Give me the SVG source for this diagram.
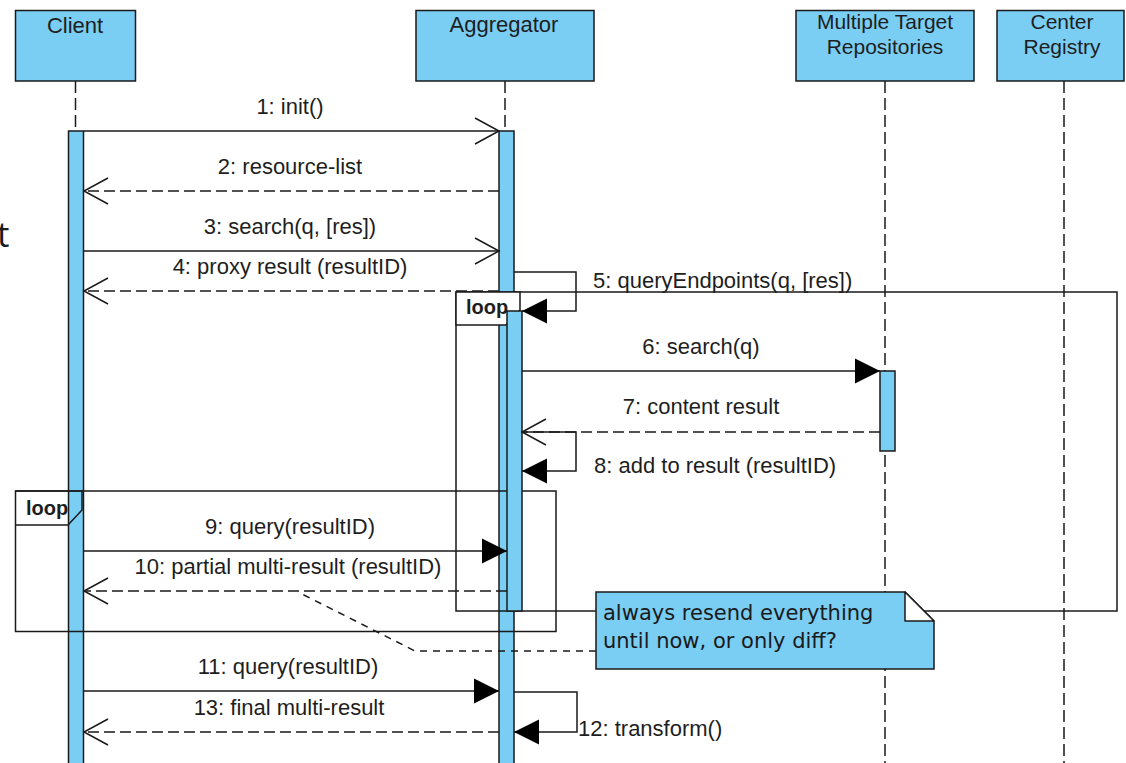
<svg xmlns="http://www.w3.org/2000/svg" width="1126" height="763" viewBox="0 0 1126 763">
  <style>
    .box { fill: #7acdf3; stroke: #1a1a1a; stroke-width: 1.5; }
    .bar { fill: #7acdf3; stroke: #1a1a1a; stroke-width: 1.5; }
    .life { fill: none; stroke: #1a1a1a; stroke-width: 1.5; stroke-dasharray: 12 5; }
    .frame { fill: none; stroke: #1a1a1a; stroke-width: 1.5; }
    .tag { fill: #ffffff; stroke: #1a1a1a; stroke-width: 1.5; }
    .msg { fill: none; stroke: #1a1a1a; stroke-width: 1.5; }
    .ret { fill: none; stroke: #1a1a1a; stroke-width: 1.5; stroke-dasharray: 11 5; }
    .anchor { fill: none; stroke: #1a1a1a; stroke-width: 1.5; stroke-dasharray: 7 6; }
    .lbl { font-family: "Liberation Sans", Arial, sans-serif; font-size: 22px; fill: #1e1e1e; }
    .hdr { font-family: "Liberation Sans", Arial, sans-serif; font-size: 21px; fill: #1e1e1e; text-anchor: middle; }
    .mid { text-anchor: middle; }
    .kw { font-family: "Liberation Sans", Arial, sans-serif; font-size: 20px; font-weight: bold; fill: #1e1e1e; }
    .notetxt { font-family: "DejaVu Sans", sans-serif; font-size: 21px; fill: #1a1a1a; }
  </style>
  <defs>
    <marker id="open" markerUnits="userSpaceOnUse" markerWidth="32" markerHeight="32" viewBox="-28 -16 32 32" refX="0" refY="0" orient="auto" overflow="visible">
      <path d="M-24,-13 L0,0 L-24,13" fill="none" stroke="#1a1a1a" stroke-width="1.5"/>
    </marker>
    <marker id="solid" markerUnits="userSpaceOnUse" markerWidth="32" markerHeight="32" viewBox="-28 -16 32 32" refX="0" refY="0" orient="auto" overflow="visible">
      <path d="M-25,-12.5 L0,0 L-25,12.5 Z" fill="#000000" stroke="none"/>
    </marker>
  </defs>

  <rect width="1126" height="763" fill="#ffffff"/>

  <!-- clipped heading letter at the left margin -->
  <text x="-3" y="247" font-family="'Open Sans', sans-serif" font-size="35" fill="#1a1a1a">t</text>

  <!-- participants with lifelines and outer activations -->
  <g id="client">
    <line class="life" x1="75.5" y1="81" x2="75.5" y2="131"/>
    <rect class="box" x="15.5" y="10.5" width="120" height="70.5"/>
    <text class="lbl mid" x="75" y="33">Client</text>
    <rect class="bar" x="68.5" y="131" width="15" height="640"/>
  </g>

  <g id="aggregator">
    <line class="life" x1="505" y1="81" x2="505" y2="131"/>
    <rect class="box" x="416" y="10.5" width="178" height="70.5"/>
    <text class="lbl mid" x="504" y="32">Aggregator</text>
    <rect class="bar" x="499" y="131" width="15" height="640"/>
  </g>

  <g id="repositories">
    <line class="life" x1="885" y1="81" x2="885" y2="763"/>
    <rect class="box" x="796" y="10.5" width="178" height="70.5"/>
    <text class="hdr" x="885" y="29">Multiple Target</text>
    <text class="hdr" x="885" y="54">Repositories</text>
  </g>

  <g id="registry">
    <line class="life" x1="1064" y1="81" x2="1064" y2="763"/>
    <rect class="box" x="997" y="10.5" width="127" height="70.5"/>
    <text class="hdr" x="1062" y="29">Center</text>
    <text class="hdr" x="1062" y="54">Registry</text>
  </g>

  <!-- combined fragment: polling loop -->
  <g id="loop-poll">
    <rect class="frame" x="15.5" y="491" width="540.5" height="140.5"/>
    <path class="frame" d="M15.5,491 H82 V510 L68,525 H15.5"/>
    <text class="kw" x="26" y="515">loop</text>
  </g>

  <!-- combined fragment: endpoint loop -->
  <g id="loop-endpoints">
    <rect class="frame" x="456" y="292" width="661" height="319"/>
    <path class="tag" d="M456,292 H520 V310 L506,325 H456 Z"/>
    <text class="kw" x="466" y="314">loop</text>
  </g>

  <!-- nested activations -->
  <g id="aggregator-nested">
    <rect class="bar" x="507" y="311" width="15" height="300"/>
  </g>
  <g id="repositories-activation">
    <rect class="bar" x="880" y="371" width="15" height="80"/>
  </g>

  <!-- messages -->
  <g id="connectors">
    <path class="msg" d="M84,131 H499" marker-end="url(#open)"/>
    <text class="lbl mid" x="290" y="114">1: init()</text>

    <path class="ret" d="M499,191 H84" marker-end="url(#open)"/>
    <text class="lbl mid" x="290" y="174">2: resource-list</text>

    <path class="msg" d="M84,251 H499" marker-end="url(#open)"/>
    <text class="lbl mid" x="290" y="234">3: search(q, [res])</text>

    <path class="ret" d="M499,291 H84" marker-end="url(#open)"/>
    <text class="lbl mid" x="290" y="274">4: proxy result (resultID)</text>

    <path class="msg" d="M514,272 H576 V311 H522" marker-end="url(#solid)"/>
    <text class="lbl" x="593" y="288">5: queryEndpoints(q, [res])</text>

    <path class="msg" d="M522,371 H880" marker-end="url(#solid)"/>
    <text class="lbl mid" x="701" y="354">6: search(q)</text>

    <path class="ret" d="M880,432 H522" marker-end="url(#open)"/>
    <text class="lbl mid" x="701" y="414">7: content result</text>

    <path class="msg" d="M522,432 H576 V471 H522" marker-end="url(#solid)"/>
    <text class="lbl" x="594" y="473">8: add to result (resultID)</text>

    <path class="msg" d="M84,551 H507" marker-end="url(#solid)"/>
    <text class="lbl mid" x="290" y="534">9: query(resultID)</text>

    <path class="ret" d="M507,591 H84" marker-end="url(#open)"/>
    <text class="lbl mid" x="288" y="574">10: partial multi-result (resultID)</text>

    <path class="msg" d="M84,691 H499" marker-end="url(#solid)"/>
    <text class="lbl mid" x="288" y="674">11: query(resultID)</text>

    <path class="msg" d="M514,692 H577 V732 H514" marker-end="url(#solid)"/>
    <text class="lbl" x="578" y="736">12: transform()</text>

    <path class="ret" d="M499,732 H84" marker-end="url(#open)"/>
    <text class="lbl mid" x="289" y="715">13: final multi-result</text>

    <!-- note anchor -->
    <path class="anchor" d="M596,651 H415 L298,592"/>
  </g>

  <!-- note -->
  <g id="note">
    <path class="box" d="M596,592 H905 L934,621 V669 H596 Z"/>
    <path d="M905,592 V621 H934 Z" fill="#ffffff" stroke="#1a1a1a" stroke-width="1.5" stroke-linejoin="round"/>
    <text class="notetxt" x="603" y="620">always resend everything</text>
    <text class="notetxt" x="603" y="648">until now, or only diff?</text>
  </g>
</svg>
